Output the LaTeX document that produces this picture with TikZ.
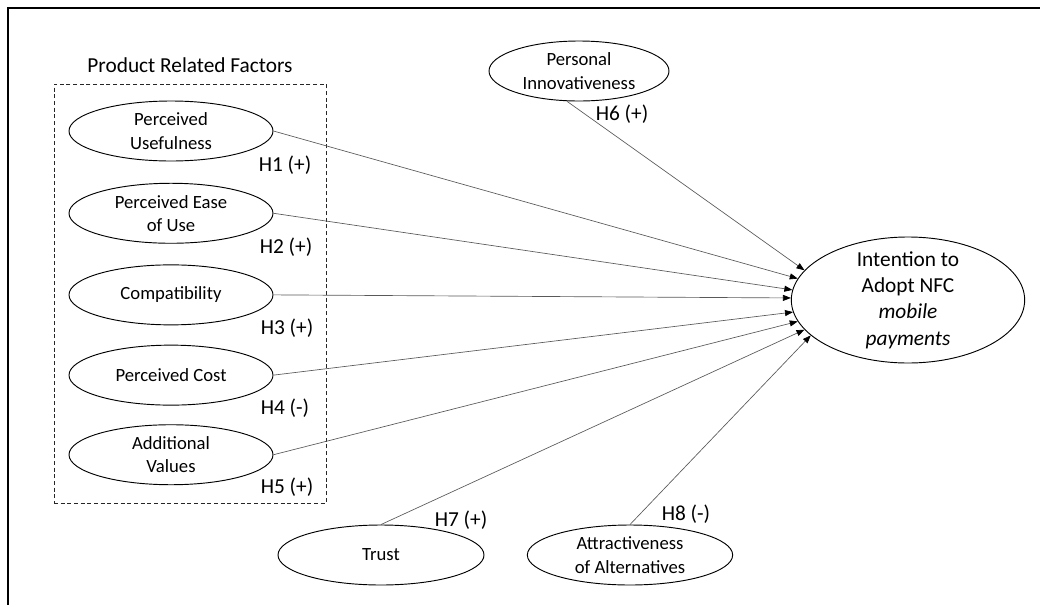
\documentclass[tikz,border=0pt]{standalone}
\usepackage{fontspec}
\setmainfont{Carlito}
\usetikzlibrary{shapes.geometric, arrows.meta, positioning}
\tikzstyle{factor} = [ellipse, draw=black, line width=0.7pt, minimum width=153pt, minimum height=45pt, inner sep=0pt, align=center, font=\fontsize{14}{17.5}\selectfont]
\tikzstyle{target} = [ellipse, draw=black, line width=0.7pt, minimum width=175pt, minimum height=94.5pt, inner sep=0pt]
\tikzstyle{hypo} = [inner sep=2pt, font=\fontsize{16}{19}\selectfont]
\tikzstyle{groupbox} = [rectangle, draw=black!85, dashed, dash pattern=on 3pt off 2pt, line width=0.7pt, minimum width=204pt, minimum height=314.25pt]
\tikzstyle{arrow} = [draw=black!65, line width=0.5pt, -{Triangle[length=6pt, width=4.5pt, color=black]}]

\begin{document}
\begin{tikzpicture}[x=0.75pt, y=-0.75pt]
    \useasboundingbox (0,0) rectangle (1040,604);
    \coordinate (framebl) at (8,610);
    \coordinate (frametl) at (8,8);
    \coordinate (frametr) at (1045,8);
    \draw[line width=0.9pt] (framebl) -- (frametl) -- (frametr);

    % Nodes
    \node (group) [groupbox] at (190,293.5) {};
    \node (title) [hypo, above=6pt of group] {Product Related Factors};

    \node (pu) [factor] at (171,131) {Perceived\\Usefulness};
    \node (peou) [factor, below=16pt of pu] {Perceived Ease\\of Use};
    \node (compat) [factor, below=15.5pt of peou] {Compatibility};
    \node (cost) [factor, below=14.5pt of compat] {Perceived Cost};
    \node (addval) [factor, below=14pt of cost] {Additional\\Values};

    \node (innov) [factor, minimum width=135pt] at (579,71) {Personal\\Innovativeness};
    \node (trust) [factor, minimum width=154.5pt] at (381,555) {Trust};
    \node (attract) [factor, minimum width=154pt] at (630,555) {Attractiveness\\of Alternatives};

    \node (intent) [target] at (908,300) {};
    \node (intenttext) [align=center, font=\fontsize{16}{19.8}\selectfont] at (intent) {Intention to\\Adopt NFC\\\textit{mobile}\\\textit{payments}};

    \node (h1) [hypo] at (285,165) {H1 (+)};
    \node (h2) [hypo] at (286,247) {H2 (+)};
    \node (h3) [hypo] at (287,328) {H3 (+)};
    \node (h4) [hypo] at (285,408) {H4 (-)};
    \node (h5) [hypo] at (287,487) {H5 (+)};
    \node (h6) [hypo] at (622,114) {H6 (+)};
    \node (h7) [hypo] at (461,520) {H7 (+)};
    \node (h8) [hypo] at (686,514) {H8 (-)};

    % Arrows
    \draw [arrow] (innov.248) -- (intent.164);
    \draw [arrow] (pu.east) -- (intent.169);
    \draw [arrow] (peou.east) -- (intent.175);
    \draw [arrow] (compat.east) -- (intent.179);
    \draw [arrow] (cost.east) -- (intent.186);
    \draw [arrow] (addval.east) -- (intent.191);
    \draw [arrow] (trust.north) -- (intent.196);
    \draw [arrow] (attract.north) -- (intent.200);

\end{tikzpicture}
\end{document}
